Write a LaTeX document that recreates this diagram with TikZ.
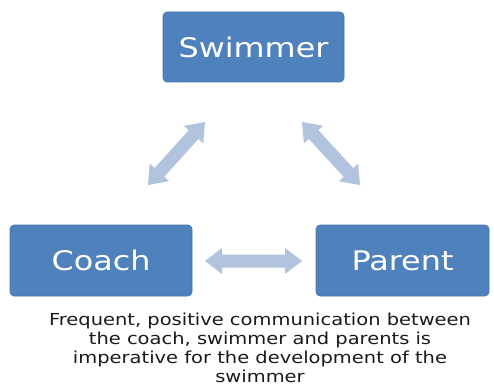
\documentclass[tikz,border=0pt]{standalone}
\usepackage{fontspec}
\usetikzlibrary{calc}
\newfontfamily\vf[FakeStretch=1.18]{DejaVu Sans}
\definecolor{boxblue}{HTML}{4F81BD}
\definecolor{boxedge}{HTML}{4775AE}
\definecolor{arrfill}{HTML}{B2C3DE}
\definecolor{captxt}{HTML}{1A1A1A}
\def\hl{17pt}
\def\hw{13pt}
\def\sw{6.5pt}
\newcommand{\dblarr}[2]{%
  \path ($(#1)!\hl!(#2)$) coordinate (#1h) ($(#2)!\hl!(#1)$) coordinate (#2h);
  \fill[arrfill] (#1) -- ($(#1h)!\hw!90:(#2)$) -- ($(#1h)!\sw!90:(#2)$)
    -- ($(#2h)!\sw!-90:(#1)$) -- ($(#2h)!\hw!-90:(#1)$) -- (#2)
    -- ($(#2h)!\hw!90:(#1)$) -- ($(#2h)!\sw!90:(#1)$)
    -- ($(#1h)!\sw!-90:(#2)$) -- ($(#1h)!\hw!-90:(#2)$) -- cycle;}
\tikzset{
  rolebox/.style={draw=boxedge, line width=0.6pt, fill=boxblue, rounded corners=4pt},
  roletext/.style={text=white, font=\vf\fontsize{27}{32}\selectfont, inner sep=0pt},
}
\begin{document}
\begin{tikzpicture}[x=1pt,y=-1pt]
\useasboundingbox (0,0) rectangle (494,387);
\fill[white] (0,0) rectangle (494,387);
% boxes
\draw[rolebox] (163,12) rectangle (344,82);
\node[roletext] (swimmer) at (253.5,47) {Swimmer};
\draw[rolebox] (10,225) rectangle (192,296);
\node[roletext] (coach) at (101,260.5) {Coach};
\draw[rolebox] (316,225) rectangle (489,296);
\node[roletext] (parent) at (402.5,260.5) {Parent};
% arrows
\coordinate (la) at (148,185);
\coordinate (lb) at (205,122);
\coordinate (ra) at (302,122);
\coordinate (rb) at (360,185);
\coordinate (ha) at (205,261);
\coordinate (hb) at (302,261);
\dblarr{la}{lb}
\dblarr{ra}{rb}
\dblarr{ha}{hb}
% caption
\node[anchor=north, inner sep=0pt, align=center, text=captxt,
      font=\vf\fontsize{16.5}{18.8}\selectfont] (caption) at (260,313)
  {Frequent, positive communication between\\the coach, swimmer and parents is\\imperative for the development of the\\swimmer};
\end{tikzpicture}
\end{document}
